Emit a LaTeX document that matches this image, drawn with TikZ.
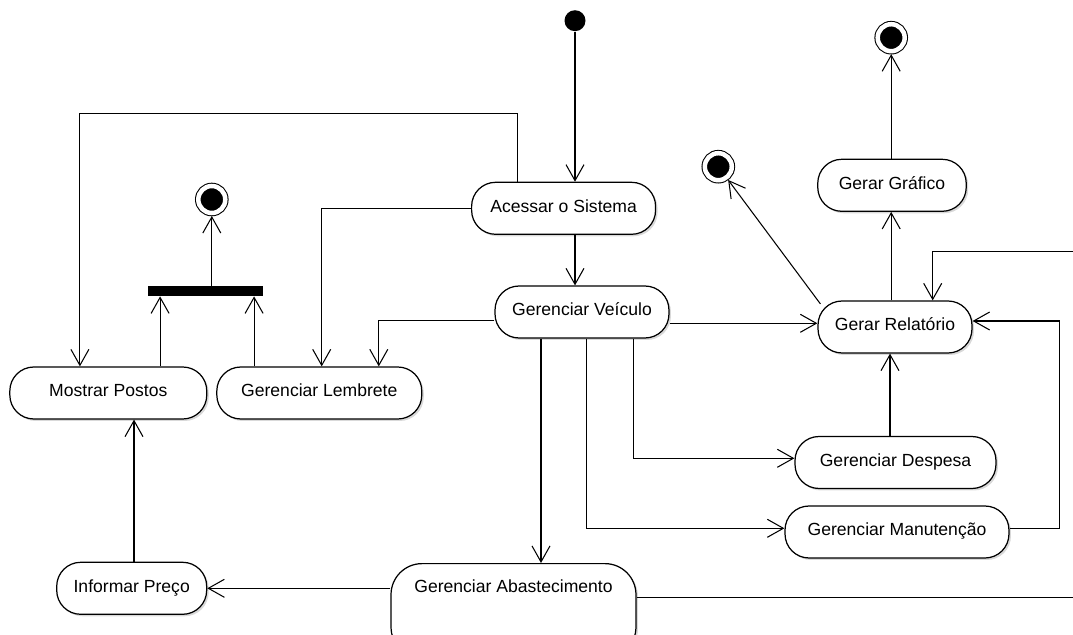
\documentclass[tikz,border=0pt]{standalone}
\usepackage{fontspec}
\setmainfont{Liberation Sans}
\usepackage{tikz}
\usetikzlibrary{arrows.meta}
\usetikzlibrary{shadows}

\tikzset{
  act/.style={draw, line width=0.7pt, rounded corners=0.48cm, fill=white,
    minimum height=1.04cm, inner sep=0pt, text height=7.5pt, text depth=3pt,
    font=\fontsize{10}{12}\selectfont,
    drop shadow={shadow xshift=0.04cm, shadow yshift=-0.04cm, opacity=0.3, fill=gray}},
  flow/.style={line width=0.6pt, -{Straight Barb[length=0.32cm,width=0.36cm]}},
  startdot/.style={circle, fill=black, minimum size=0.42cm, inner sep=0pt},
  enddot/.style={circle, fill=black, draw=black, line width=0.6pt, double=white,
    double distance=0.09cm, minimum size=0.54cm, inner sep=0pt, outer sep=0.06cm},
  syncbar/.style={rectangle, fill=black, minimum width=2.3cm, minimum height=0.2cm, inner sep=0pt}
}

\begin{document}
\begin{tikzpicture}[x=0.02cm,y=-0.02cm]
          \useasboundingbox (0,0) rectangle (1073,635);
          \clip (0,0) rectangle (1073,635);
          % start and end states
          \node[startdot] (start) at (575,20.7) {};
          \node[enddot] (end1) at (211.8,199.5) {};
          \node[enddot] (end2) at (718.3,166.7) {};
          \node[enddot] (end3) at (891.2,37.7) {};
          \node[syncbar] (sync) at (205.7,291) {};
          % activities
          \node[act, minimum width=3.68cm] (acc) at (563.6,208.3) {Acessar o Sistema};
          \node[act, minimum width=3.48cm] (gv) at (582,312) {Gerenciar Veículo};
          \node[act, minimum width=3.08cm] (gr) at (895,327) {Gerar Relatório};
          \node[act, minimum width=2.97cm] (gg) at (892,185.3) {Gerar Gráfico};
          \node[act, minimum width=4.02cm] (gd) at (895.5,462.5) {Gerenciar Despesa};
          \node[act, minimum width=4.48cm] (gm) at (897,532) {Gerenciar Manutenção};
          \node[act, minimum width=3.94cm] (mp) at (108.3,393) {Mostrar Postos};
          \node[act, minimum width=4.1cm] (gl) at (319.3,393) {Gerenciar Lembrete};
          \node[act, minimum width=3.0cm] (ip) at (131.7,588.3) {Informar Preço};
          \node[act, rounded corners=0.62cm, minimum width=4.9cm, minimum height=0pt, text height=16.7pt, text depth=1.3cm, anchor=north] (ga) at (513.5,563) {Gerenciar Abastecimento};
          % bend points
          \coordinate (k1) at (517.6,113.3);
          \coordinate (k2) at (79.9,113.3);
          \coordinate (k3) at (321.7,0);
          \coordinate (k4) at (378.8,320.7);
          \coordinate (k5) at (0,323.3);
          \coordinate (k6) at (541,0);
          \coordinate (k7) at (586.7,528.3);
          \coordinate (k8) at (633.3,458.3);
          \coordinate (k9) at (890,0);
          \coordinate (k10) at (1059.3,321);
          \coordinate (k11) at (1090,597.7);
          \coordinate (k12) at (1090,251.7);
          \coordinate (k13) at (932.7,0);
          \coordinate (k14) at (891.2,0);
          \coordinate (k16) at (160.1,0);
          \coordinate (k17) at (254.1,0);
          \coordinate (k18) at (134,0);
          % start to Acessar o Sistema
          \draw[flow] (start) -- (start |- acc.north);
          % Acessar o Sistema to Mostrar Postos, Gerenciar Lembrete, Gerenciar Veiculo
          \draw[flow] (acc.north -| k1) |- (k2) -- (mp.north -| k2);
          \draw[flow] (acc.west) -| (gl.north -| k3);
          \draw[flow] (acc.south -| start) -- (gv.north -| start);
          % Gerenciar Veiculo to the others
          \draw[flow] (gv.west |- k4) -| (gl.north -| k4);
          \draw[flow] (gv.east |- k5) -- (gr.west |- k5);
          \draw[flow] (gv.south -| k6) -- (ga.north -| k6);
          \draw[flow] (gv.south -| k7) |- (gm.west |- k7);
          \draw[flow] (gv.south -| k8) |- (gd.west |- k8);
          % into Gerar Relatorio
          \draw[flow] (gd.north -| k9) -- (gr.south -| k9);
          \draw[flow] (gm.east |- k7) -| (k10) -- (gr.east |- k10);
          \draw[flow] (ga.east |- k11) -- (k11) -- (k12) -| (gr.north -| k13);
          % Gerar Relatorio and Gerar Grafico
          \draw[flow] (gr.north -| k14) -- (gg.south -| k14);
          \draw[flow] (gg.north -| k14) -- (end3);
          \draw[flow] ([shift={(0.06cm,-0.07cm)}]gr.north west) -- (end2);
          % join bar
          \draw[flow] (mp.north -| k16) -- (sync.south -| k16);
          \draw[flow] (gl.north -| k17) -- (sync.south -| k17);
          \draw[flow] (sync.north -| end1) -- (end1);
          % Abastecimento, Informar Preco, Mostrar Postos
          \draw[flow] (ga.west |- ip.east) -- (ip.east);
          \draw[flow] (ip.north -| k18) -- (mp.south -| k18);
        \end{tikzpicture}
\end{document}
